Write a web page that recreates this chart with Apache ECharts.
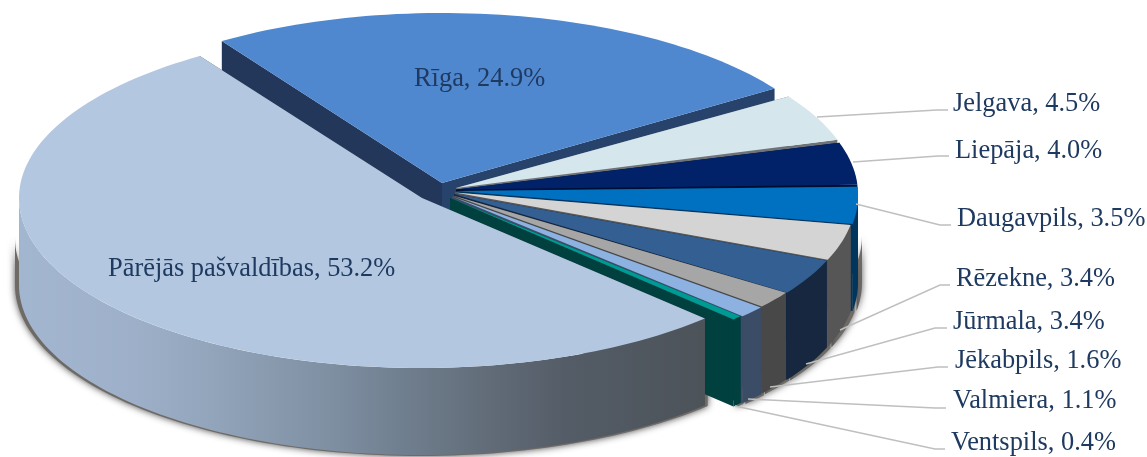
<!DOCTYPE html>
<html>
<head>
<meta charset="utf-8">
<style>html,body{margin:0;padding:0;background:#fff}#c{width:1147px;height:457px}</style>
<script src="https://cdn.jsdelivr.net/npm/echarts@6/dist/echarts.min.js"></script>
</head>
<body>
<div id="c"></div>
<script>
// ---- data, clockwise from the start of Rīga ----
const categories = ['Rīga','Jelgava','Liepāja','Daugavpils','Rēzekne','Jūrmala','Jēkabpils','Valmiera','Ventspils','Pārējās pašvaldības'];
const shares = [24.9,4.5,4.0,3.5,3.4,3.4,1.6,1.1,0.4,53.2];

// ---- styling and layout ----
const topColors  = ['#5088d0','#d5e6ed','#012169','#0070c0','#d4d4d4','#335f92','#a6a6a6','#8db1e0','#009a94','#b3c7e0'];
const wallColors = ['#27436c','#6e7378','#000f30','#00355e','#565656','#16273f','#484848','#3b4c66','#00403e','#4c5359'];
const leftWall   = '#23375a';
const apexes = [[442,183],[456,188],[456,189.5],[456,191],[455,192.5],[454,194],[453,195.5],[452,196.5],[450,198],[422,198]];
const rims   = [[442,183],[456,191],[458,194],[458,196],[456,197],[455,198],[454,198],[453,199],[451,199],[421,198]];
const radiiX = [400,400,400,400,400,400,400,400,400,402];
const RY = 170, DEPTH = 87, START = -33.4, SHADOW_DROP = 40;
const labelText = [
  {x:414,y:79},{x:953,y:104},{x:955,y:151},{x:957,y:219},{x:956,y:279},
  {x:953,y:322},{x:955,y:361},{x:953,y:401},{x:951,y:443},{x:108,y:269}
];
const leaders = [
  null,
  [[817,117],[937,110],[948,110]],
  [[853,162],[938,156],[949,156]],
  [[856,204],[940,225],[951,225]],
  [[840,330],[940,285],[950,285]],
  [[806,364],[935,328],[947,328]],
  [[770,387],[938,367],[948,367]],
  [[748,399],[935,408],[946,408]],
  [[735,406],[935,449],[945,449]],
  null
];
const frontGradient = {type:'linear',x:18,y:0,x2:703,y2:0,global:true,colorStops:[
  {offset:0,color:'#a3b6d0'},{offset:.17,color:'#9eb0c9'},{offset:.28,color:'#93a5bb'},
  {offset:.46,color:'#7e8fa2'},{offset:.56,color:'#707f8f'},{offset:.68,color:'#626d79'},
  {offset:.8,color:'#545c67'},{offset:1,color:'#4c5359'}]};

const total = shares.reduce((a,b)=>a+b,0);
const bounds = []; let acc = START;
shares.forEach(v=>{const s=acc; acc+=v/total*360; bounds.push([s,acc]);});
const rad = d=>d*Math.PI/180;
function arc(i,a0,a1,dy,growX,growY){
  const c=rims[i], n=Math.max(2,Math.ceil((a1-a0)/1.5)), pts=[];
  const rx=radiiX[i]+(growX||0), ry=RY+(growY||0);
  for(let k=0;k<=n;k++){const t=rad(a0+(a1-a0)*k/n);pts.push([c[0]+rx*Math.sin(t),c[1]-ry*Math.cos(t)+(dy||0)]);}
  return pts;
}
const down = (p,d)=>[p[0],p[1]+d];
// only the part of the rim that faces the viewer (90°..270°) is a visible wall
function rimWall(i,growX,growY,topDrop){
  const a0=Math.max(bounds[i][0],90), a1=Math.min(bounds[i][1],270);
  if(a1<=a0) return null;
  return arc(i,a0,a1,topDrop||0,growX,growY).concat(arc(i,a0,a1,DEPTH,growX,growY).reverse());
}
function radial(i,p){ return [apexes[i],p,down(p,DEPTH),down(apexes[i],DEPTH)]; }

function renderShadow(params){
  const i=params.dataIndex, pts=rimWall(i,4,1,SHADOW_DROP);
  if(!pts) return {type:'group',children:[]};
  return {type:'polygon',silent:true,shape:{points:pts},
    style:{fill:'#6e6a66',shadowBlur:7,shadowColor:'rgba(40,40,40,0.85)',shadowOffsetX:0,shadowOffsetY:0}};
}
function renderSlice(params,api){
  const i=params.dataIndex, [a0,a1]=bounds[i];
  const edge=arc(i,a0,a1,0);
  const first=edge[0], last=edge[edge.length-1];
  const kids=[];
  kids.push({type:'polygon',shape:{points:radial(i,first)},style:{fill:i===0?leftWall:wallColors[i]}});
  kids.push({type:'polygon',shape:{points:radial(i,last)},style:{fill:wallColors[i]}});
  const wall=rimWall(i);
  if(wall) kids.push({type:'polygon',shape:{points:wall},style:{fill:i===9?frontGradient:wallColors[i]}});
  kids.push({type:'polygon',shape:{points:[apexes[i]].concat(edge)},style:{fill:topColors[i]}});
  return {type:'group',silent:true,children:kids};
}
function renderLabel(params,api){
  const i=params.dataIndex, kids=[];
  if(leaders[i]) kids.push({type:'polyline',shape:{points:leaders[i]},style:{stroke:'#bfbfbf',lineWidth:1.4,fill:null}});
  kids.push({type:'text',style:{text:categories[i]+', '+api.value(1).toFixed(1)+'%',x:labelText[i].x,y:labelText[i].y,
    fill:'#1f3a60',font:'26.4px "Liberation Serif"',align:'left',verticalAlign:'middle'}});
  return {type:'group',silent:true,children:kids};
}
const rows=categories.map((c,i)=>[c,shares[i]]);
const chart=echarts.init(document.getElementById('c'),null,{renderer:'canvas'});
chart.setOption({
  animation:false,
  backgroundColor:'#fff',
  series:[
    {type:'custom',name:'shadow',coordinateSystem:'none',data:rows,renderItem:renderShadow,z:1,silent:true},
    {type:'custom',name:'slices',coordinateSystem:'none',data:rows,renderItem:renderSlice,z:2,silent:true},
    {type:'custom',name:'labels',coordinateSystem:'none',data:rows,renderItem:renderLabel,z:3,silent:true}
  ]
});
</script>
</body>
</html>
